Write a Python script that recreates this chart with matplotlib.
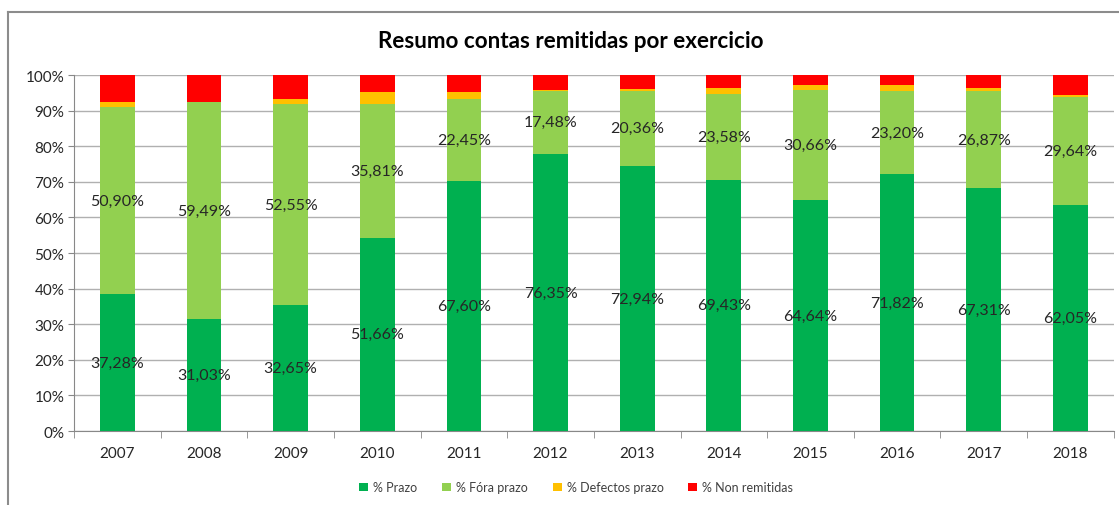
import matplotlib.pyplot as plt
import numpy as np
from matplotlib.lines import Line2D

plt.rcParams['font.family'] = ['Lato', 'DejaVu Sans']

anos = ['2007', '2008', '2009', '2010', '2011', '2012',
        '2013', '2014', '2015', '2016', '2017', '2018']
prazo = [38.4, 31.5, 35.3, 54.3, 70.1, 77.8, 74.5, 70.6, 64.9, 72.2, 68.2, 63.4]
fora_prazo = [52.7, 60.9, 56.6, 37.6, 23.2, 17.8, 21.1, 24.1, 30.8, 23.3, 27.4, 30.5]
defectos = [1.3, 0.0, 1.4, 3.3, 1.9, 0.2, 0.5, 1.6, 1.4, 1.6, 0.7, 0.5]
non_remitidas = [7.6, 7.6, 6.7, 4.8, 4.8, 4.2, 3.9, 3.7, 2.9, 2.9, 3.7, 5.6]
# etiquetas tal como aparecen no gráfico
prazo_txt = ['37,28%', '31,03%', '32,65%', '51,66%', '67,60%', '76,35%',
             '72,94%', '69,43%', '64,64%', '71,82%', '67,31%', '62,05%']
fora_txt = ['50,90%', '59,49%', '52,55%', '35,81%', '22,45%', '17,48%',
            '20,36%', '23,58%', '30,66%', '23,20%', '26,87%', '29,64%']

series = [('% Prazo', prazo, '#00B050'),
          ('% Fóra prazo', fora_prazo, '#92D050'),
          ('% Defectos prazo', defectos, '#FFC000'),
          ('% Non remitidas', non_remitidas, '#FF0000')]

fig = plt.figure(figsize=(11.19, 5.06), dpi=100)
ax = fig.add_axes([0.0661, 0.1462, 0.9292, 0.7036])

x = np.arange(len(anos))
bottom = np.zeros(len(anos))
for nome, vals, cor in series:
    ax.bar(x, vals, width=0.4, bottom=bottom, color=cor, label=nome, zorder=3)
    bottom += np.array(vals)

p = np.array(prazo)
f = np.array(fora_prazo)
for i in range(len(anos)):
    ax.text(x[i], p[i] / 2, prazo_txt[i], ha='center', va='center',
            fontsize=11.5, color='#262626', zorder=4)
    ax.text(x[i], p[i] + f[i] / 2, fora_txt[i], ha='center', va='center',
            fontsize=11.5, color='#262626', zorder=4)

ax.set_xlim(-0.5, len(anos) - 0.5)
ax.set_ylim(0, 100)
ax.set_yticks(np.arange(0, 101, 10))
ax.set_yticklabels([f'{v}%' for v in range(0, 101, 10)])
ax.set_xticks(x)
ax.set_xticklabels(anos)
ax.set_xticks(np.arange(-0.5, len(anos), 1), minor=True)
ax.tick_params(axis='x', which='major', length=0, pad=11, labelsize=11, labelcolor='#262626')
ax.tick_params(axis='x', which='minor', length=5, color='#888888')
ax.tick_params(axis='y', length=4, color='#888888', pad=3, labelsize=11, labelcolor='#262626')
ax.grid(axis='y', color='#b0b0b0', lw=1, zorder=0)
for s in ['top', 'right']:
    ax.spines[s].set_visible(False)
ax.spines['left'].set_color('#888888')
ax.spines['bottom'].set_color('#888888')

fig.text(0.51, 0.917, 'Resumo contas remitidas por exercicio', ha='center', va='center',
         fontsize=16.2, fontweight='bold', color='black')

fig.legend(loc='center', bbox_to_anchor=(0.515, 0.035), ncol=4, frameon=False,
           fontsize=9, handlelength=0.7, handleheight=0.7, handletextpad=0.4,
           columnspacing=2.0, labelcolor='#404040')

# bordo exterior do gráfico
fig.add_artist(Line2D([8 / 1119, 1], [1 - 13 / 506, 1 - 13 / 506], color='#8c8c8c', lw=1.5))
fig.add_artist(Line2D([8 / 1119, 8 / 1119], [0, 1 - 13 / 506], color='#8c8c8c', lw=1.5))

fig.savefig('out.png', dpi=100)
